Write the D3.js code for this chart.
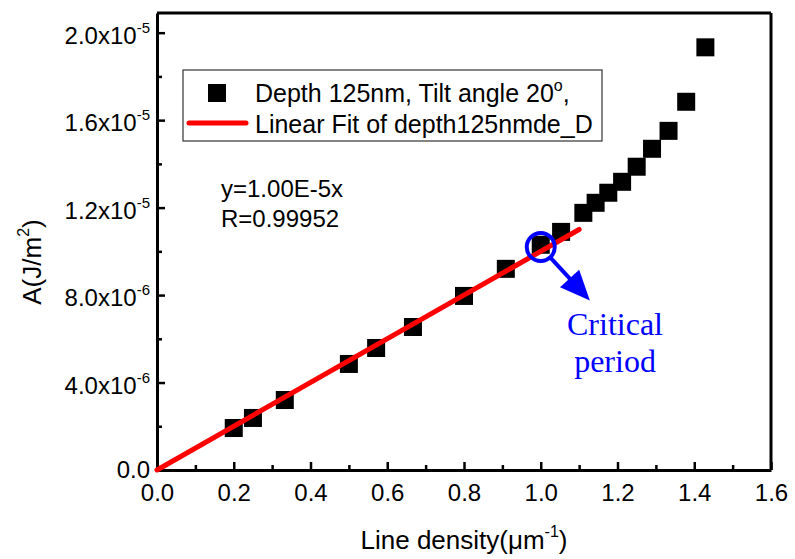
<!DOCTYPE html>
<html>
<head>
<meta charset="utf-8">
<script src="https://cdn.jsdelivr.net/npm/d3@7"></script>
<style>
  body { margin: 0; background: #fff; }
  svg { display: block; }
  text { font-family: "Liberation Sans", Arial, sans-serif; fill: #000; }
</style>
</head>
<body>
<svg id="chart" width="795" height="559"></svg>
<script>
// ---- data ----
const lineDensity = [0.2, 0.25, 0.333, 0.5, 0.571, 0.667, 0.8, 0.909, 1.0, 1.053, 1.111, 1.143, 1.176, 1.212, 1.25, 1.29, 1.333, 1.379, 1.429];
const energyA = [1.92e-6, 2.38e-6, 3.20e-6, 4.85e-6, 5.58e-6, 6.54e-6, 7.96e-6, 9.20e-6, 10.3e-6, 10.89e-6, 11.76e-6, 12.22e-6, 12.68e-6, 13.18e-6, 13.87e-6, 14.69e-6, 15.51e-6, 16.84e-6, 19.33e-6];
const fitSlope = 1.00e-5;
const fitRange = [0, 1.1];
const xTicks = [0, 0.2, 0.4, 0.6, 0.8, 1.0, 1.2, 1.4, 1.6];
const xMinorTicks = [0.1, 0.3, 0.5, 0.7, 0.9, 1.1, 1.3, 1.5];
const yTicks = [0, 4e-6, 8e-6, 1.2e-5, 1.6e-5, 2.0e-5];
const yTickMantissa = ["0.0", "4.0x10", "8.0x10", "1.2x10", "1.6x10", "2.0x10"];
const yTickExponent = ["", "-6", "-6", "-5", "-5", "-5"];
const yMinorTicks = [2e-6, 6e-6, 1e-5, 1.4e-5, 1.8e-5];
const legendLabels = ["Depth 125nm, Tilt angle 20", "Linear Fit of depth125nmde_D"];
const fitText = ["y=1.00E-5x", "R=0.99952"];
const criticalPoint = [1.0, 1.02e-5];
const arrowTip = [1.128, 7.75e-6];
const criticalLabel = ["Critical", "period"];

// ---- scales ----
const svg = d3.select("#chart");
const x = d3.scaleLinear().domain([0, 1.6]).range([157, 771]);
const y = d3.scaleLinear().domain([0, 2.09e-5]).range([470, 13]);

const axisW = 3;

// frame top & right
svg.append("line").attr("x1", x(0)).attr("x2", x(1.6)).attr("y1", y(2.09e-5)).attr("y2", y(2.09e-5))
  .attr("stroke", "#000").attr("stroke-width", axisW);
svg.append("line").attr("x1", x(1.6)).attr("x2", x(1.6)).attr("y1", y(2.09e-5)).attr("y2", y(0))
  .attr("stroke", "#000").attr("stroke-width", axisW);

// x axis
const gx = svg.append("g").attr("transform", `translate(0,${y(0)})`)
  .call(d3.axisBottom(x).tickValues(xTicks).tickSizeInner(-8).tickSizeOuter(0).tickPadding(14)
    .tickFormat(d3.format(".1f")));
gx.select(".domain").attr("stroke-width", axisW);
gx.selectAll(".tick line").attr("stroke-width", 2.5);
gx.selectAll(".tick text").style("font-size", "24px").attr("dy", null).attr("y", 31);
const gxm = svg.append("g").attr("transform", `translate(0,${y(0)})`)
  .call(d3.axisBottom(x).tickValues(xMinorTicks).tickSizeInner(-5).tickSizeOuter(0).tickFormat(""));
gxm.select(".domain").remove();
gxm.selectAll(".tick line").attr("stroke-width", 2.5);

// y axis
const gy = svg.append("g").attr("transform", `translate(${x(0)},0)`)
  .call(d3.axisLeft(y).tickValues(yTicks).tickSizeInner(-8).tickSizeOuter(0).tickFormat(""));
gy.select(".domain").attr("stroke-width", axisW);
gy.selectAll(".tick line").attr("stroke-width", 2.5);
const gym = svg.append("g").attr("transform", `translate(${x(0)},0)`)
  .call(d3.axisLeft(y).tickValues(yMinorTicks).tickSizeInner(-5).tickSizeOuter(0).tickFormat(""));
gym.select(".domain").remove();
gym.selectAll(".tick line").attr("stroke-width", 2.5);

// y tick labels with superscripts
yTicks.forEach((v, i) => {
  const t = svg.append("text").attr("x", x(0) - 7).attr("y", y(v) + (i === 0 ? 8 : 11))
    .attr("text-anchor", "end").style("font-size", "24px");
  t.append("tspan").text(yTickMantissa[i]);
  if (yTickExponent[i]) t.append("tspan").attr("dy", -11).style("font-size", "15px").text(yTickExponent[i]);
});

// axis titles
const xt = svg.append("text").attr("x", 464).attr("y", 549).attr("text-anchor", "middle").style("font-size", "26px");
xt.append("tspan").text("Line density(\u03bcm");
xt.append("tspan").attr("dy", -12).style("font-size", "16px").text("-1");
xt.append("tspan").attr("dy", 12).text(")");

const yt = svg.append("text").attr("transform", "translate(41,262) rotate(-90)")
  .attr("text-anchor", "middle").style("font-size", "26px");
yt.append("tspan").text("A(J/m");
yt.append("tspan").attr("dy", -12).style("font-size", "16px").text("2");
yt.append("tspan").attr("dy", 12).text(")");

// data squares
const sq = 18;
svg.append("g").selectAll("rect").data(lineDensity.map((d, i) => [d, energyA[i]]))
  .join("rect")
  .attr("x", d => x(d[0]) - sq / 2).attr("y", d => y(d[1]) - sq / 2)
  .attr("width", sq).attr("height", sq).attr("fill", "#000");

// linear fit
svg.append("line")
  .attr("x1", x(fitRange[0])).attr("y1", y(fitSlope * fitRange[0]))
  .attr("x2", x(fitRange[1])).attr("y2", y(fitSlope * fitRange[1]))
  .attr("stroke", "#ff0000").attr("stroke-width", 5).attr("stroke-linecap", "round");

// legend
svg.append("rect").attr("x", 183).attr("y", 70).attr("width", 419).attr("height", 71)
  .attr("fill", "#fff").attr("stroke", "#333").attr("stroke-width", 1.2);
svg.append("rect").attr("x", 217 - sq / 2).attr("y", 93 - sq / 2).attr("width", sq).attr("height", sq).attr("fill", "#000");
svg.append("line").attr("x1", 189).attr("x2", 246).attr("y1", 123).attr("y2", 123)
  .attr("stroke", "#ff0000").attr("stroke-width", 5).attr("stroke-linecap", "round");
const l1 = svg.append("text").attr("x", 255).attr("y", 102).style("font-size", "25px");
l1.append("tspan").text(legendLabels[0]);
l1.append("tspan").attr("dy", -11).style("font-size", "16px").text("o");
l1.append("tspan").attr("dy", 11).text(",");
svg.append("text").attr("x", 255).attr("y", 133).style("font-size", "25px").text(legendLabels[1]);

// fit text
fitText.forEach((s, i) => {
  svg.append("text").attr("x", 221).attr("y", 197 + i * 30).style("font-size", "24px").text(s);
});

// critical period annotation
const cx = x(criticalPoint[0]), cy = y(criticalPoint[1]);
const r = 14;
svg.append("circle").attr("cx", cx).attr("cy", cy).attr("r", r)
  .attr("fill", "none").attr("stroke", "#0000ff").attr("stroke-width", 4);
const tx = x(arrowTip[0]), ty = y(arrowTip[1]);
const ang = Math.atan2(ty - cy, tx - cx);
const headLen = 30, headHalf = 13;
const bx = tx - headLen * Math.cos(ang), by = ty - headLen * Math.sin(ang);
svg.append("line")
  .attr("x1", cx + r * Math.cos(ang)).attr("y1", cy + r * Math.sin(ang))
  .attr("x2", bx + 2 * Math.cos(ang)).attr("y2", by + 2 * Math.sin(ang))
  .attr("stroke", "#0000ff").attr("stroke-width", 4);
svg.append("path")
  .attr("d", `M${tx},${ty} L${bx + headHalf * Math.sin(ang)},${by - headHalf * Math.cos(ang)} L${bx - headHalf * Math.sin(ang)},${by + headHalf * Math.cos(ang)} Z`)
  .attr("fill", "#0000ff");
criticalLabel.forEach((s, i) => {
  svg.append("text").attr("x", 615).attr("y", 335 + i * 37).attr("text-anchor", "middle")
    .style("font-family", "'Liberation Serif', 'Times New Roman', serif").style("font-size", "32px")
    .style("fill", "#0000ff").text(s);
});
</script>
</body>
</html>
